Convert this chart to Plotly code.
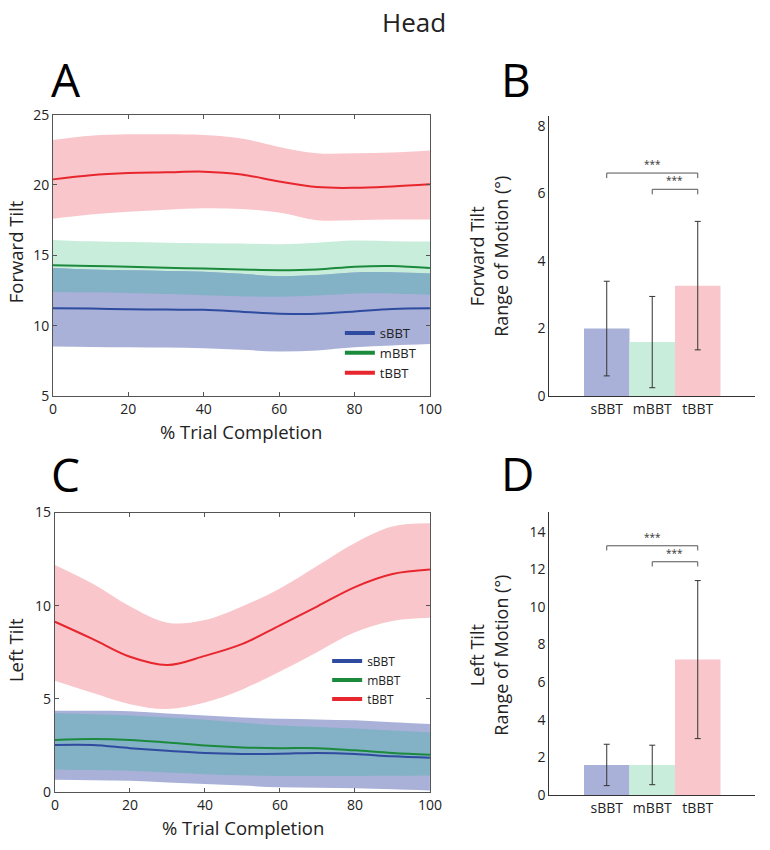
import numpy as np
import plotly.graph_objects as go

# ---------------------------------- Data ---------------------------------------
pct = [0, 10, 20, 30, 40, 50, 60, 70, 80, 90, 100]

# Panel A - forward tilt
fwd_s_mean = [11.25, 11.22, 11.18, 11.15, 11.13, 11.0, 10.86, 10.85, 11.02, 11.2, 11.25]
fwd_s_hi = [14.1, 14.0, 13.95, 13.9, 13.84, 13.7, 13.52, 13.6, 13.79, 13.8, 13.72]
fwd_s_lo = [8.52, 8.5, 8.47, 8.45, 8.4, 8.3, 8.17, 8.25, 8.47, 8.6, 8.7]
fwd_m_mean = [14.3, 14.25, 14.2, 14.12, 14.07, 14.0, 13.95, 14.0, 14.2, 14.25, 14.1]
fwd_m_hi = [16.1, 16.0, 15.95, 15.9, 15.87, 15.85, 15.8, 15.9, 16.05, 16.0, 15.98]
fwd_m_lo = [12.4, 12.38, 12.33, 12.25, 12.17, 12.1, 12.06, 12.15, 12.29, 12.3, 12.2]
fwd_t_mean = [20.4, 20.7, 20.85, 20.9, 20.95, 20.75, 20.25, 19.85, 19.8, 19.9, 20.05]
fwd_t_hi = [23.2, 23.5, 23.6, 23.6, 23.55, 23.3, 22.7, 22.25, 22.25, 22.3, 22.45]
fwd_t_lo = [17.6, 17.9, 18.1, 18.25, 18.35, 18.3, 18.05, 17.5, 17.5, 17.55, 17.55]

# Panel C - left tilt
left_s_mean = [2.53, 2.53, 2.36, 2.22, 2.1, 2.05, 2.06, 2.1, 2.05, 1.92, 1.85]
left_s_hi = [4.37, 4.36, 4.34, 4.22, 4.11, 4.0, 3.93, 3.9, 3.85, 3.75, 3.65]
left_s_lo = [0.66, 0.64, 0.61, 0.52, 0.44, 0.35, 0.26, 0.23, 0.21, 0.15, 0.09]
left_m_mean = [2.8, 2.85, 2.8, 2.66, 2.5, 2.4, 2.36, 2.36, 2.24, 2.1, 2.0]
left_m_hi = [4.23, 4.18, 4.11, 4.0, 3.88, 3.72, 3.58, 3.5, 3.41, 3.3, 3.2]
left_m_lo = [1.22, 1.18, 1.14, 1.05, 0.96, 0.9, 0.87, 0.87, 0.87, 0.88, 0.89]
left_t_mean = [9.14, 8.22, 7.26, 6.82, 7.31, 7.95, 8.95, 9.97, 11.0, 11.7, 11.94]
left_t_hi = [12.19, 11.19, 9.97, 9.09, 9.23, 9.97, 10.93, 12.15, 13.37, 14.25, 14.42]
left_t_lo = [5.98, 5.33, 4.72, 4.46, 4.81, 5.51, 6.47, 7.52, 8.57, 9.18, 9.35]

# Panels B / D - range of motion
groups = ['sBBT', 'mBBT', 'tBBT']
group_pos = [1, 2, 3]
fwd_rom = [2.0, 1.6, 3.27]
fwd_rom_err = [1.4, 1.35, 1.9]
left_rom = [1.6, 1.6, 7.2]
left_rom_err = [1.1, 1.05, 4.2]
# (from, to, height) of the significance brackets
fwd_brackets = [(1, 3, 6.6), (2, 3, 6.12)]
left_brackets = [(1, 3, 13.25), (2, 3, 12.4)]

# ---------------------------------- Style ---------------------------------------
FONT = 'Open Sans'
line_col = {'sBBT': '#2f4b9f', 'mBBT': '#1b8a3d', 'tBBT': '#e8262d'}
band_col = {'sBBT': '#a9b1d8', 'mBBT': '#c9eddb', 'tBBT': '#f9c6cb'}
overlap_col = '#83b1c5'
W, H = 770, 850


def px_x(p):
    return p / W


def px_y(p):
    return 1 - p / H


fig = go.Figure()


def add_band(xa, ya, lo, hi, color):
    fig.add_trace(go.Scatter(x=pct, y=hi, mode='lines', line=dict(width=0, shape='spline'),
                             xaxis=xa, yaxis=ya, showlegend=False, hoverinfo='skip'))
    fig.add_trace(go.Scatter(x=pct, y=lo, mode='lines', line=dict(width=0, shape='spline'),
                             fill='tonexty', fillcolor=color,
                             xaxis=xa, yaxis=ya, showlegend=False, hoverinfo='skip'))


def add_time_panel(xa, ya, series):
    # bands first (red, green, blue), then the blue/green overlap, then the means
    for name in ['tBBT', 'mBBT', 'sBBT']:
        mean, lo, hi = series[name]
        add_band(xa, ya, lo, hi, band_col[name])
    ov_hi = np.minimum(series['mBBT'][2], series['sBBT'][2])
    ov_lo = np.maximum(series['mBBT'][1], series['sBBT'][1])
    add_band(xa, ya, ov_lo, ov_hi, overlap_col)
    for name in ['sBBT', 'mBBT', 'tBBT']:
        fig.add_trace(go.Scatter(x=pct, y=series[name][0], mode='lines',
                                 line=dict(color=line_col[name], width=2, shape='spline'),
                                 xaxis=xa, yaxis=ya, showlegend=False, name=name))


def add_legend(legend_id, xa, ya):
    for name in ['sBBT', 'mBBT', 'tBBT']:
        fig.add_trace(go.Scatter(x=[None], y=[None], mode='lines', name=name,
                                 line=dict(color=line_col[name], width=4),
                                 xaxis=xa, yaxis=ya, legend=legend_id))


def add_bar_panel(xa, ya, vals, errs, brackets, drop):
    fig.add_trace(go.Bar(x=group_pos, y=vals, width=1,
                         marker=dict(color=[band_col[g] for g in groups], line=dict(width=0)),
                         error_y=dict(type='data', array=errs, color='#333333', thickness=1, width=3),
                         xaxis=xa, yaxis=ya, showlegend=False))
    for x0, x1, h in brackets:
        fig.add_trace(go.Scatter(x=[x0, x0, x1, x1], y=[h - drop, h, h, h - drop], mode='lines',
                                 line=dict(color='#555555', width=1),
                                 xaxis=xa, yaxis=ya, showlegend=False, hoverinfo='skip'))
        fig.add_annotation(x=(x0 + x1) / 2, y=h, xref=xa, yref=ya, text='***', showarrow=False,
                           yanchor='bottom', yshift=0, font=dict(size=10, color='#333333'))


add_time_panel('x', 'y', {'sBBT': (fwd_s_mean, fwd_s_lo, fwd_s_hi),
                          'mBBT': (fwd_m_mean, fwd_m_lo, fwd_m_hi),
                          'tBBT': (fwd_t_mean, fwd_t_lo, fwd_t_hi)})
add_legend('legend', 'x', 'y')
add_bar_panel('x2', 'y2', fwd_rom, fwd_rom_err, fwd_brackets, 0.15)

add_time_panel('x3', 'y3', {'sBBT': (left_s_mean, left_s_lo, left_s_hi),
                            'mBBT': (left_m_mean, left_m_lo, left_m_hi),
                            'tBBT': (left_t_mean, left_t_lo, left_t_hi)})
add_legend('legend2', 'x3', 'y3')
add_bar_panel('x4', 'y4', left_rom, left_rom_err, left_brackets, 0.25)

# ---------------------------------- Layout ---------------------------------------
tick_font = dict(family=FONT, size=14, color='#222222')
box_axis = dict(showline=True, linecolor='#555555', linewidth=1, mirror='ticks', ticks='inside',
                ticklen=4, tickcolor='#555555', showgrid=False, zeroline=False, tickfont=tick_font)
bar_axis = dict(showline=True, linecolor='#333333', linewidth=1, ticks='', showgrid=False,
                zeroline=False, tickfont=tick_font)
legend_base = dict(xanchor='left', yanchor='top', bgcolor='rgba(0,0,0,0)', itemwidth=30,
                   tracegroupgap=0, traceorder='normal')

fig.update_layout(
    width=W, height=H, margin=dict(l=0, r=0, t=0, b=0),
    plot_bgcolor='white', paper_bgcolor='white',
    font=dict(family=FONT, color='#222222'),
    barmode='overlay',
    xaxis=dict(box_axis, domain=[px_x(50), px_x(435)], range=[0, 100], dtick=20, anchor='y'),
    yaxis=dict(box_axis, domain=[px_y(395), px_y(107)], range=[5, 25], dtick=5, anchor='x'),
    xaxis2=dict(bar_axis, domain=[px_x(557), px_x(767)], range=[-0.26, 4.26],
                tickvals=group_pos, ticktext=groups, anchor='y2'),
    yaxis2=dict(bar_axis, domain=[px_y(395), px_y(108)], range=[0, 8.3], dtick=2, anchor='x2'),
    xaxis3=dict(box_axis, domain=[px_x(52), px_x(435)], range=[0, 100], dtick=20, anchor='y3'),
    yaxis3=dict(box_axis, domain=[px_y(800), px_y(514)], range=[0, 15], dtick=5, anchor='x3'),
    xaxis4=dict(bar_axis, domain=[px_x(557), px_x(767)], range=[-0.26, 4.26],
                tickvals=group_pos, ticktext=groups, anchor='y4'),
    yaxis4=dict(bar_axis, domain=[px_y(803), px_y(513)], range=[0, 15.07], dtick=2, anchor='x4'),
    legend=dict(legend_base, x=px_x(343), y=px_y(315),
                font=dict(family=FONT, size=13, color='#222222')),
    legend2=dict(legend_base, x=px_x(330), y=px_y(651),
                 font=dict(family=FONT, size=12, color='#222222')),
)

# titles and panel letters as paper annotations
texts = [
    ('Head', 419, 12, 26, 0),
    ('A', 46, 71, 46, 0), ('B', 505, 71, 46, 0), ('C', 46, 475, 46, 0), ('D', 505, 474, 46, 0),
    ('% Trial Completion', 242, 431, 18.5, 0), ('% Trial Completion', 244, 836, 18.5, 0),
    ('Forward Tilt', 12, 247, 18.5, -90), ('Left Tilt', 12, 655, 18.5, -90),
    ('Forward Tilt', 483, 252, 18, -90), ('Range of Motion (°)', 508, 252, 18, -90),
    ('Left Tilt', 483, 660, 18, -90), ('Range of Motion (°)', 508, 660, 18, -90),
]
for txt, tx, ty, size, ang in texts:
    is_letter = len(txt) == 1
    fig.add_annotation(x=px_x(tx), y=px_y(ty), xref='paper', yref='paper', text=txt, showarrow=False,
                       xanchor='left' if is_letter else 'center', yanchor='middle', textangle=ang,
                       font=dict(family=FONT, size=size, color='#000000' if is_letter else '#222222'))

fig.write_html("out.html", config={'displayModeBar': False},
               post_script="document.body.style.margin='0';")
